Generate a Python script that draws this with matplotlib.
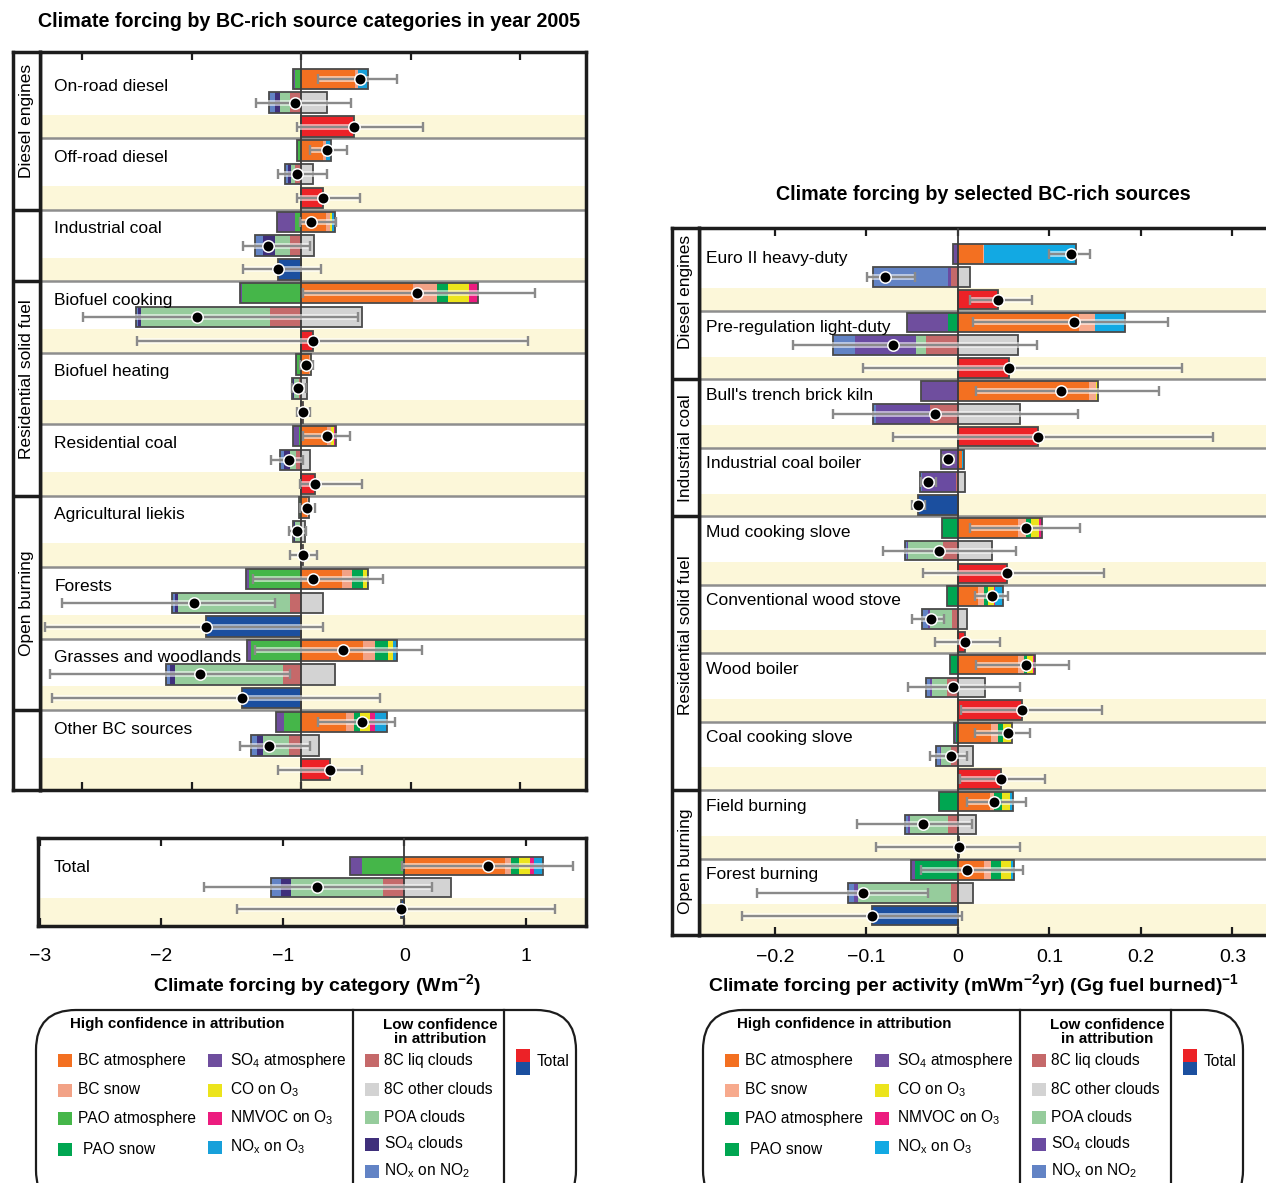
import matplotlib
matplotlib.use("Agg")
import matplotlib.pyplot as plt
import matplotlib.patheffects as pe
from matplotlib.patches import Rectangle, FancyBboxPatch

plt.rcParams['font.family'] = ['Liberation Sans', 'DejaVu Sans']
plt.rcParams['mathtext.fontset'] = 'custom'
plt.rcParams['mathtext.rm'] = 'Liberation Sans'
plt.rcParams['mathtext.it'] = 'Liberation Sans:italic'
plt.rcParams['mathtext.bf'] = 'Liberation Sans:bold'
plt.rcParams['mathtext.default'] = 'regular'

# ---------------------------------------------------------------- data
# Source categories, year 2005 (W m-2)
cat_names = ["On-road diesel", "Off-road diesel", "Industrial coal", "Biofuel cooking",
             "Biofuel heating", "Residential coal", "Agricultural liekis", "Forests",
             "Grasses and woodlands", "Other BC sources"]
# (group label, first block, last block, shift of the label centre in rows)
cat_groups = [("Diesel engines", 0, 1, -0.4), ("Residential solid fuel", 3, 5, -0.4),
              ("Open burning", 6, 8, 0.0)]
cat_group_breaks = [1, 2, 5, 8]

cat_bc_atm   = [0.099, 0.040, 0.046, 0.205, 0.015, 0.048, 0.011, 0.075, 0.113, 0.082]
cat_bc_snow  = [0.005, 0.005, 0.007, 0.044, 0.002, 0.007, 0.002, 0.018, 0.022, 0.015]
cat_pao_snow = [0.000, 0.000, 0.000, 0.020, 0.000, 0.000, 0.000, 0.020, 0.024, 0.011]
cat_co_o3    = [0.000, 0.000, 0.004, 0.037, 0.002, 0.006, 0.002, 0.007, 0.009, 0.018]
cat_nmvoc_o3 = [0.000, 0.000, 0.000, 0.018, 0.000, 0.002, 0.000, 0.000, 0.000, 0.009]
cat_nox_o3   = [0.018, 0.010, 0.005, 0.000, 0.000, 0.000, 0.000, 0.002, 0.007, 0.022]
cat_pao_atm  = [-0.011, -0.005, -0.011, -0.108, -0.007, -0.004, -0.004, -0.095, -0.091, -0.031]
cat_so4_atm  = [-0.004, -0.002, -0.033, -0.004, -0.002, -0.011, 0.000, -0.005, -0.007, -0.015]
cat_bc_other = [0.047, 0.022, 0.024, 0.111, 0.011, 0.016, 0.007, 0.040, 0.062, 0.033]
cat_bc_liq   = [-0.020, -0.011, -0.020, -0.057, -0.004, -0.009, -0.002, -0.020, -0.033, -0.022]
cat_poa_cld  = [-0.018, -0.008, -0.027, -0.236, -0.009, -0.011, -0.009, -0.205, -0.197, -0.047]
cat_so4_cld  = [-0.009, -0.004, -0.022, -0.004, -0.002, -0.011, -0.002, -0.005, -0.009, -0.011]
cat_nox_no2  = [-0.011, -0.006, -0.015, -0.004, -0.002, -0.007, -0.002, -0.005, -0.007, -0.011]

cat_high_rng = [(0.031, 0.175), (0.016, 0.084), (-0.002, 0.064), (0.004, 0.427), (-0.002, 0.022),
                (0.004, 0.089), (-0.002, 0.026), (-0.088, 0.150), (-0.084, 0.221), (0.031, 0.172)]
cat_low_rng  = [(-0.082, 0.091), (-0.042, 0.047), (-0.106, 0.016), (-0.398, 0.104), (-0.016, 0.009),
                (-0.055, 0.004), (-0.022, 0.009), (-0.437, -0.047), (-0.458, -0.020), (-0.111, 0.016)]
cat_tot_rng  = [(-0.007, 0.223), (-0.007, 0.108), (-0.106, 0.037), (-0.300, 0.415), (-0.007, 0.016),
                (-0.002, 0.111), (-0.020, 0.029), (-0.468, 0.040), (-0.455, 0.144), (-0.042, 0.111)]

# All BC-rich sources together (W m-2)
all_names = ["Total"]
all_bc_atm, all_bc_snow, all_pao_snow = [0.83], [0.05], [0.06]
all_co_o3, all_nmvoc_o3, all_nox_o3 = [0.09], [0.04], [0.07]
all_pao_atm, all_so4_atm = [-0.35], [-0.10]
all_bc_other, all_bc_liq, all_poa_cld = [0.38], [-0.18], [-0.75]
all_so4_cld, all_nox_no2 = [-0.09], [-0.08]
all_high_rng = [(-0.02, 1.39)]
all_low_rng = [(-1.65, 0.23)]
all_tot_rng = [(-1.38, 1.24)]

# Selected sources (mW m-2 yr per Gg fuel burned)
src_names = ["Euro II heavy-duty", "Pre-regulation light-duty", "Bull's trench brick kiln",
             "Industrial coal boiler", "Mud cooking slove", "Conventional wood stove",
             "Wood boiler", "Coal cooking slove", "Field burning", "Forest burning"]
src_groups = [("Diesel engines", 0, 1, -0.5), ("Industrial coal", 2, 3, 0.0),
              ("Residential solid fuel", 4, 7, -0.8), ("Open burning", 8, 9, 0.1)]
src_group_breaks = [1, 3, 7]

src_bc_atm   = [0.027, 0.132, 0.143, 0.004, 0.066, 0.022, 0.066, 0.036, 0.035, 0.028]
src_bc_snow  = [0.002, 0.018, 0.008, 0.001, 0.008, 0.006, 0.006, 0.008, 0.005, 0.008]
src_pao_snow = [0.000, 0.000, 0.000, 0.000, 0.006, 0.005, 0.004, 0.005, 0.008, 0.011]
src_co_o3    = [0.000, 0.000, 0.002, 0.000, 0.009, 0.006, 0.006, 0.010, 0.009, 0.011]
src_nmvoc_o3 = [0.000, 0.000, 0.000, 0.000, 0.003, 0.002, 0.002, 0.000, 0.000, 0.000]
src_nox_o3   = [0.100, 0.033, 0.000, 0.002, 0.000, 0.008, 0.000, 0.000, 0.003, 0.003]
src_pao_atm  = [0.000, -0.011, 0.000, 0.000, -0.017, -0.012, -0.009, -0.002, -0.021, -0.047]
src_so4_atm  = [-0.005, -0.045, -0.040, -0.018, 0.000, 0.000, 0.000, -0.002, 0.000, -0.004]
src_bc_other = [0.013, 0.066, 0.068, 0.008, 0.037, 0.010, 0.030, 0.016, 0.020, 0.016]
src_bc_liq   = [-0.008, -0.035, -0.030, -0.002, -0.016, -0.006, -0.012, -0.008, -0.011, -0.008]
src_poa_cld  = [0.000, -0.011, 0.000, 0.000, -0.038, -0.024, -0.016, -0.010, -0.041, -0.101]
src_so4_cld  = [-0.003, -0.066, -0.060, -0.037, -0.002, -0.003, -0.002, -0.002, -0.003, -0.005]
src_nox_no2  = [-0.082, -0.025, -0.003, -0.002, -0.002, -0.006, -0.005, -0.004, -0.003, -0.006]

src_high_rng = [(0.100, 0.144), (0.016, 0.230), (0.020, 0.220), (-0.016, -0.004), (0.013, 0.133),
                (0.019, 0.055), (0.020, 0.122), (0.019, 0.079), (0.010, 0.075), (-0.040, 0.071)]
src_low_rng  = [(-0.099, -0.047), (-0.180, 0.086), (-0.137, 0.131), (-0.040, -0.024), (-0.082, 0.063),
                (-0.050, -0.015), (-0.055, 0.068), (-0.030, 0.010), (-0.110, 0.015), (-0.220, -0.033)]
src_tot_rng  = [(0.013, 0.081), (-0.104, 0.245), (-0.071, 0.279), (-0.050, -0.036), (-0.038, 0.160),
                (-0.025, 0.046), (0.003, 0.158), (0.002, 0.095), (-0.090, 0.068), (-0.236, 0.005)]

cat_ticks = [-0.4, -0.2, 0.0, 0.2, 0.4]
all_ticks = [-3, -2, -1, 0, 1]
all_tick_labels = ['\u22123', '\u22122', '\u22121', '0', '1']
src_ticks = [-0.2, -0.1, 0.0, 0.1, 0.2, 0.3]
src_tick_labels = ['\u22120.2', '\u22120.1', '0', '0.1', '0.2', '0.3']

# ---------------------------------------------------------------- styles
PAL_L = dict(bc_atm='#f37021', bc_snow='#f2a286', pao_atm='#45b649', pao_snow='#00a651',
             so4_atm='#6f4e9e', co='#ece41c', nmvoc='#ec1c7f', nox_o3='#17a0da',
             bc_liq='#c5696a', bc_other='#d3d3d3', poa='#96cc9c', so4_cld='#3f2f7b',
             nox_no2='#6283c5', pos='#ec2227', neg='#1b4f9f')
PAL_R = dict(PAL_L, pao_atm='#00a651', so4_cld='#6a4ba1', bc_snow='#f7aa8d', nox_o3='#12a9e3')

BAND = '#fcf7d9'
EDGE = '#4a4a4a'
FRAME = '#1c1c1c'
ERRC = '#8a8a8a'
W, H = 1266, 1183

fig = plt.figure(figsize=(W / 100, H / 100), dpi=100)


def frac(x0, y0, x1, y1):
    return [x0 / W, 1 - y1 / H, (x1 - x0) / W, (y1 - y0) / H]


ov = fig.add_axes([0, 0, 1, 1])
ov.set_xlim(0, W)
ov.set_ylim(H, 0)
ov.axis('off')


def stack(ax, y, pos, neg, h):
    x = 0.0
    for v, c in pos:
        if v > 0:
            ax.barh(y, v, left=x, height=h, color=c, lw=0, zorder=2)
            x += v
    right = x
    x = 0.0
    for v, c in neg:
        if v < 0:
            ax.barh(y, v, left=x, height=h, color=c, lw=0, zorder=2)
            x += v
    left = x
    ax.barh(y, right - left, left=left, height=h, fill=False, edgecolor=EDGE, lw=1.3, zorder=3)


def spread(ax, y, lo, hi, net, cap, ms):
    ax.plot([lo, hi], [y, y], color=ERRC, lw=1.7, zorder=4, solid_capstyle='butt',
            path_effects=[pe.Stroke(linewidth=4.2, foreground='white', alpha=0.6), pe.Normal()])
    ax.plot([lo, hi], [y, y], ls='none', marker='|', ms=cap, mew=1.7, color=ERRC, zorder=4)
    ax.plot([net], [y], 'o', ms=ms, mfc='black', mec='white', mew=1.1, zorder=5)


def panel(ax, pal, d, n, xlim, ylim, ticks, h=0.86, ms=8.2, cap=7, label_dy=0.3, label_fs=12.5,
          label_x=0.026):
    ax.set_xlim(*xlim)
    ax.set_ylim(*ylim)
    for i in range(n):
        y0 = 3 * i
        band_bottom = y0 + 2.5 if i < n - 1 else ylim[0]
        ax.axhspan(y0 + 1.5, band_bottom, color=BAND, lw=0, zorder=0)
        if i < n - 1:
            ax.axhline(y0 + 2.5, color='#8e8e8e', lw=1.8, zorder=1)
        hpos = [(d['bc_atm'][i], pal['bc_atm']), (d['bc_snow'][i], pal['bc_snow']),
                (d['pao_snow'][i], pal['pao_snow']), (d['co'][i], pal['co']),
                (d['nmvoc'][i], pal['nmvoc']), (d['nox_o3'][i], pal['nox_o3'])]
        hneg = [(d['pao_atm'][i], pal['pao_atm']), (d['so4_atm'][i], pal['so4_atm'])]
        lpos = [(d['bc_other'][i], pal['bc_other'])]
        lneg = [(d['bc_liq'][i], pal['bc_liq']), (d['poa'][i], pal['poa']),
                (d['so4_cld'][i], pal['so4_cld']), (d['nox_no2'][i], pal['nox_no2'])]
        hnet = sum(v for v, _ in hpos + hneg)
        lnet = sum(v for v, _ in lpos + lneg)
        tnet = hnet + lnet
        stack(ax, y0, hpos, hneg, h)
        stack(ax, y0 + 1, lpos, lneg, h)
        ax.barh(y0 + 2, tnet, left=0, height=h, color=pal['pos'] if tnet > 0 else pal['neg'],
                edgecolor=EDGE, lw=1.3, zorder=2)
        spread(ax, y0, *d['high_rng'][i], hnet, cap, ms)
        spread(ax, y0 + 1, *d['low_rng'][i], lnet, cap, ms)
        spread(ax, y0 + 2, *d['tot_rng'][i], tnet, cap, ms)
        ax.text(label_x, y0 + label_dy, d['names'][i], transform=ax.get_yaxis_transform(),
                ha='left', va='center', fontsize=label_fs, zorder=6)
    ax.axvline(0, color='#3a3a3a', lw=1.3, zorder=3.5)
    ax.set_yticks([])
    ax.set_xticks(ticks)
    ax.tick_params(axis='x', direction='in', length=6, width=1.6, top=True, bottom=True,
                   colors=FRAME, labelsize=14, labelcolor='black')
    for s in ax.spines.values():
        s.set_linewidth(2.5)
        s.set_color(FRAME)


def side_column(ax, ylim, groups, breaks, fs=12.5):
    ax.set_ylim(*ylim)
    ax.set_xlim(0, 1)
    ax.set_xticks([])
    ax.set_yticks([])
    for s in ax.spines.values():
        s.set_linewidth(2.5)
        s.set_color(FRAME)
    for b in breaks:
        ax.axhline(3 * b + 2.5, color=FRAME, lw=2.5)
    for name, a, b, shift in groups:
        top = ylim[1] if a == 0 else 3 * a - 0.5
        bot = ylim[0] if 3 * b + 2.5 > ylim[0] else 3 * b + 2.5
        ax.text(0.5, (top + bot) / 2 + shift, name, rotation=90, ha='center', va='center',
                fontsize=fs)


def pack(prefix):
    g = globals()
    return dict(names=g[prefix + 'names'], bc_atm=g[prefix + 'bc_atm'], bc_snow=g[prefix + 'bc_snow'],
                pao_snow=g[prefix + 'pao_snow'], co=g[prefix + 'co_o3'], nmvoc=g[prefix + 'nmvoc_o3'],
                nox_o3=g[prefix + 'nox_o3'], pao_atm=g[prefix + 'pao_atm'], so4_atm=g[prefix + 'so4_atm'],
                bc_other=g[prefix + 'bc_other'], bc_liq=g[prefix + 'bc_liq'], poa=g[prefix + 'poa_cld'],
                so4_cld=g[prefix + 'so4_cld'], nox_no2=g[prefix + 'nox_no2'],
                high_rng=g[prefix + 'high_rng'], low_rng=g[prefix + 'low_rng'],
                tot_rng=g[prefix + 'tot_rng'])


# ---------------------------------------------------------------- left: categories
YL = (29.86, -1.13)
axL = fig.add_axes(frac(40, 52, 586, 790))
panel(axL, PAL_L, pack('cat_'), len(cat_names), (-0.4767, 0.5205), YL, cat_ticks)
axL.set_xticklabels([])
colL = fig.add_axes(frac(13, 52, 40, 790))
side_column(colL, YL, cat_groups, cat_group_breaks)

axT = fig.add_axes(frac(38, 838, 586, 926))
panel(axT, PAL_L, pack('all_'), 1, (-3.016, 1.494), (2.79, -1.30), all_ticks,
      label_dy=0.05, label_x=0.029)
axT.set_xticklabels(all_tick_labels)
axT.tick_params(axis='x', pad=16)

# ---------------------------------------------------------------- right: sources
YR = (29.85, -1.14)
axR = fig.add_axes(frac(699, 228, 1268, 935))
panel(axR, PAL_R, pack('src_'), len(src_names), (-0.283, 0.339), YR, src_ticks,
      label_dy=0.2, label_x=0.012)
axR.set_xticklabels(src_tick_labels)
axR.tick_params(axis='x', pad=10)
colR = fig.add_axes(frac(672, 228, 699, 935))
side_column(colR, YR, src_groups, src_group_breaks)

# ---------------------------------------------------------------- titles
ov.text(309, 21, "Climate forcing by BC-rich source categories in year 2005", ha='center',
        va='center', fontsize=14.2, fontweight='bold')
ov.text(983, 194, "Climate forcing by selected BC-rich sources", ha='center', va='center',
        fontsize=14.2, fontweight='bold')
ov.text(317, 985, "Climate forcing by category (Wm$^{-2}$)", ha='center', va='center',
        fontsize=14.0, fontweight='bold')
ov.text(973, 985, "Climate forcing per activity (mWm$^{-2}$yr) (Gg fuel burned)$^{-1}$",
        ha='center', va='center', fontsize=14.0, fontweight='bold')


# ---------------------------------------------------------------- legends
def legend(x0, pal):
    ov.add_patch(FancyBboxPatch((x0, 1010), 540, 200, boxstyle="round,pad=0,rounding_size=40",
                                fc='white', ec=FRAME, lw=1.6))
    ov.plot([x0 + 317, x0 + 317], [1010, 1190], color=FRAME, lw=1.6)
    ov.plot([x0 + 468, x0 + 468], [1010, 1190], color=FRAME, lw=1.6)
    ov.text(x0 + 34, 1024, "High confidence in attribution", fontsize=10.9, fontweight='bold',
            ha='left', va='center')
    ov.text(x0 + 404, 1032, "Low confidence\nin attribution", fontsize=10.9, fontweight='bold',
            ha='center', va='center', linespacing=0.95)
    items = [
        (22, 1060, 'bc_atm', "BC atmosphere", 42),
        (22, 1090, 'bc_snow', "BC snow", 42),
        (22, 1118, 'pao_atm', "PAO atmosphere", 42),
        (22, 1149, 'pao_snow', "PAO snow", 47),
        (172, 1060, 'so4_atm', "SO$_4$ atmosphere", 194),
        (172, 1090, 'co', "CO on O$_3$", 194),
        (172, 1118, 'nmvoc', "NMVOC on O$_3$", 194),
        (172, 1147, 'nox_o3', "NO$_x$ on O$_3$", 194),
        (329, 1060, 'bc_liq', "8C liq clouds", 348),
        (329, 1089, 'bc_other', "8C other clouds", 348),
        (329, 1117, 'poa', "POA clouds", 348),
        (329, 1144, 'so4_cld', "SO$_4$ clouds", 348),
        (329, 1171, 'nox_no2', "NO$_x$ on NO$_2$", 348),
    ]
    for sx, sy, key, txt, tx in items:
        ov.add_patch(Rectangle((x0 + sx, sy - 6.5), 14, 13, color=pal[key], lw=0))
        ov.text(x0 + tx, sy, txt, fontsize=11.2, ha='left', va='center')
    ov.add_patch(Rectangle((x0 + 480, 1049), 14, 13, color=pal['pos'], lw=0))
    ov.add_patch(Rectangle((x0 + 480, 1062), 14, 13, color=pal['neg'], lw=0))
    ov.text(x0 + 501, 1062, "Total", fontsize=11.2, ha='left', va='center')


legend(36, PAL_L)
legend(703, PAL_R)

fig.savefig("out.png", dpi=100)
